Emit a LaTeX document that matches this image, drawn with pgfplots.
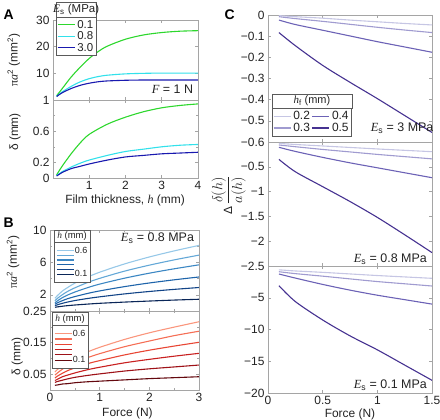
\documentclass[border=0pt]{standalone}
\usepackage{pgfplots}
\usepackage{pgfplotstable}
\pgfplotsset{compat=1.18}
\usepackage{fontspec}
\setmainfont{Liberation Sans}
\newfontfamily\tnr{Liberation Serif}
\usetikzlibrary{calc}
\newcommand{\iv}[1]{{\tnr\itshape #1}}
\newcommand{\Es}{\iv{E}\textsubscript{s}}
\newcommand{\lb}[1]{\smash{\raisebox{-3.2bp}{#1}}}
\definecolor{frm}{RGB}{165,165,165}
\definecolor{legf}{RGB}{90,90,90}
\definecolor{txt}{RGB}{35,35,35}
\definecolor{cgreen}{RGB}{45,215,45}
\definecolor{ccyan}{RGB}{50,225,235}
\definecolor{cblue}{RGB}{25,25,175}
\definecolor{bA}{RGB}{150,200,232}
\definecolor{bB}{RGB}{100,168,215}
\definecolor{bC}{RGB}{60,135,195}
\definecolor{bD}{RGB}{30,100,170}
\definecolor{bE}{RGB}{18,68,135}
\definecolor{bF}{RGB}{10,38,88}
\definecolor{rA}{RGB}{250,150,125}
\definecolor{rB}{RGB}{245,110,85}
\definecolor{rC}{RGB}{232,70,52}
\definecolor{rD}{RGB}{200,32,32}
\definecolor{rE}{RGB}{158,18,24}
\definecolor{rF}{RGB}{100,8,14}
\definecolor{pA}{RGB}{198,198,228}
\definecolor{pB}{RGB}{160,155,208}
\definecolor{pC}{RGB}{108,98,182}
\definecolor{pD}{RGB}{70,50,145}

% Panel A: h, E=0.1, 0.8, 3.0
\pgfplotstableread{
h    g     c     b
0.1  1.6   1.4   1.3
0.25 4.2   3.0   2.7
0.5  8.6   5.1   4.3
0.75 12.3  6.8   5.5
1    15.6  8.0   6.3
1.25 18.2  8.8   6.85
1.5  20.2  9.3   7.15
2    22.8  9.8   7.4
2.5  24.4  10.0  7.5
3    25.3  10.1  7.5
3.5  25.8  10.1  7.5
4    26.0  10.1  7.5
}\tabAtop
\pgfplotstableread{
h    g     c     b
0.1  0.04  0.03  0.025
0.25 0.15  0.08  0.07
0.5  0.31  0.14  0.12
0.75 0.45  0.19  0.15
1    0.56  0.23  0.18
1.5  0.69  0.29  0.23
2    0.78  0.34  0.27
2.5  0.85  0.37  0.29
3    0.90  0.40  0.31
3.5  0.93  0.42  0.32
4    0.95  0.43  0.33
}\tabAbot
% Panel B: F, h=0.6 ... 0.1
\pgfplotstableread{
F    a     b     c     d     e     f
0.1  1.57  1.27  1.02  0.83  0.65  0.46
0.15 1.91  1.56  1.26  1.01  0.77  0.51
0.25 2.47  2.02  1.65  1.28  0.95  0.59
0.35 2.88  2.40  1.96  1.51  1.10  0.66
0.5  3.44  2.86  2.34  1.78  1.29  0.74
0.75 4.17  3.50  2.87  2.16  1.54  0.85
1    4.79  4.03  3.32  2.48  1.75  0.95
1.5  5.81  4.92  4.05  3.01  2.11  1.10
2    6.67  5.66  4.67  3.46  2.41  1.23
2.5  7.42  6.31  5.21  3.85  2.67  1.35
3    8.10  6.90  5.70  4.20  2.90  1.45
}\tabBtop
\pgfplotstableread{
F    a      b      c      d      e      f
0.1  0.057  0.047  0.038  0.030  0.024  0.015
0.15 0.065  0.054  0.044  0.034  0.027  0.016
0.25 0.078  0.066  0.053  0.042  0.031  0.019
0.35 0.089  0.075  0.061  0.047  0.035  0.020
0.5  0.102  0.086  0.070  0.054  0.040  0.023
0.75 0.120  0.102  0.083  0.064  0.046  0.026
1    0.135  0.115  0.093  0.072  0.051  0.028
1.5  0.160  0.137  0.111  0.086  0.060  0.032
2    0.181  0.155  0.126  0.097  0.067  0.036
2.5  0.199  0.172  0.139  0.107  0.073  0.039
3    0.216  0.186  0.151  0.116  0.079  0.042
}\tabBbot
% Panel C: F, hf=0.2,0.3,0.4,0.5
\pgfplotstableread{
F    a       b       c       d
0.1  -0.003  -0.008  -0.024  -0.083
0.25 -0.008  -0.017  -0.045  -0.145
0.5  -0.015  -0.030  -0.072  -0.238
0.75 -0.024  -0.044  -0.099  -0.318
1    -0.032  -0.058  -0.126  -0.395
1.25 -0.040  -0.071  -0.151  -0.475
1.5  -0.047  -0.083  -0.176  -0.555
}\tabCtop
\pgfplotstableread{
F    a       b       c       d
0.1  -0.027  -0.06   -0.107  -0.35
0.25 -0.05   -0.095  -0.19   -0.60
0.5  -0.08   -0.15   -0.31   -0.90
0.75 -0.11   -0.20   -0.42   -1.20
1    -0.14   -0.25   -0.52   -1.52
1.25 -0.168  -0.295  -0.62   -1.87
1.5  -0.195  -0.34   -0.72   -2.23
}\tabCmid
\pgfplotstableread{
F    a      b      c      d
0.1  -0.6   -0.9   -1.26  -3.1
0.25 -0.78  -1.2   -1.9   -5.6
0.5  -1.0   -1.6   -2.9   -8.5
0.75 -1.25  -2.03  -3.8   -11.0
1    -1.5   -2.45  -4.6   -13.2
1.25 -1.72  -2.8   -5.3   -15.6
1.5  -1.94  -3.15  -6.0   -18.0
}\tabCbot

\pgfplotsset{
  base/.style={
    scale only axis, anchor=north west,
    axis line style={frm, line width=0.6bp},
    every tick/.style={frm, line width=0.5bp},
    major tick length=3bp, minor tick length=2bp, tick align=inside,
    ticklabel style={font=\fontsize{12}{12}\selectfont, text=txt},
    every axis y label/.style={rotate=90, anchor=center, font=\fontsize{12}{13}\selectfont, text=txt},
    every axis x label/.style={anchor=center, font=\fontsize{12}{13}\selectfont, text=txt},
    /pgf/number format/assume math mode=true,
    every axis plot/.append style={line width=1.1bp, mark=none, smooth},
    legend cell align=left,
  },
}

\begin{document}
\begin{tikzpicture}
\useasboundingbox (0bp,0bp) rectangle (440bp,-420bp);

% ---------- A top
\begin{axis}[base, at={(53bp,-20bp)}, width=145bp, height=80bp,
  xmin=0, xmax=4, ymin=0, ymax=30, xtick={1,2,3,4}, xticklabels={},
  ytick={10,20,30},
  ylabel={{\tnr π\itshape a}\textsuperscript{2} (mm\textsuperscript{2})},
  ylabel style={at={(axis description cs:-0.27,0.5)}},
  legend style={at={(axis description cs:0.02,1.04)}, anchor=north west,
    draw=legf, line width=0.5bp, fill=white, text=txt,
    font=\fontsize{11.5}{12}\selectfont, name=legA, inner sep=1bp, row sep=-2bp},
]
\addplot[cgreen] table[x=h,y=g] {\tabAtop};
\addplot[ccyan] table[x=h,y=c] {\tabAtop};
\addplot[cblue] table[x=h,y=b] {\tabAtop};
\legend{0.1,0.8,3.0}
\node[anchor=east, font=\fontsize{12.5}{13}\selectfont, text=txt] at (rel axis cs:0.99,0.14) {\iv{F} = 1 N};
\end{axis}
\draw[legf, line width=0.5bp, fill=white] (legA.north west) rectangle ([yshift=15bp]legA.north east);
\node[font=\fontsize{11.5}{12}\selectfont, text=txt] at ([yshift=7.5bp]legA.north) {\Es\ (MPa)};

% ---------- A bottom
\begin{axis}[base, at={(53bp,-100bp)}, width=145bp, height=78bp,
  xmin=0, xmax=4, ymin=0, ymax=1, xtick={1,2,3,4},
  ytick={0,0.2,0.6,1}, yticklabels={0,0.2,0.6,1}, minor ytick={0.4,0.8},
  ylabel={δ (mm)},
  ylabel style={at={(axis description cs:-0.262,0.59)}},
  xlabel={Film thickness, \iv{h} (mm)},
  xlabel style={at={(axis description cs:0.497,-0.29)}},
]
\addplot[cgreen] table[x=h,y=g] {\tabAbot};
\addplot[ccyan] table[x=h,y=c] {\tabAbot};
\addplot[cblue] table[x=h,y=b] {\tabAbot};
\end{axis}

% ---------- B top
\begin{axis}[base, at={(50bp,-230bp)}, width=149bp, height=81bp,
  xmin=0, xmax=3, ymin=0, ymax=10, xtick={0,1,2,3}, xticklabels={},
  minor xtick={0.5,1.5,2.5},
  ytick={2,6,10}, minor ytick={4,8},
  ylabel={{\tnr π\itshape a}\textsuperscript{2} (mm\textsuperscript{2})},
  ylabel style={at={(axis description cs:-0.248,0.6)}},
  legend style={at={(axis description cs:0.027,0.85)}, anchor=north west,
    draw=legf, line width=0.5bp, fill=white, text=txt,
    font=\fontsize{9}{9}\selectfont, name=legB, inner xsep=2bp, inner ysep=7bp,
    row sep=2.2bp, nodes={inner sep=0.5bp}},
]
\addplot[bA] table[x=F,y=a] {\tabBtop}; \addlegendentry{\lb{0.6}}
\addplot[bB] table[x=F,y=b] {\tabBtop}; \addlegendentry{\lb{}}
\addplot[bC] table[x=F,y=c] {\tabBtop}; \addlegendentry{\lb{}}
\addplot[bD] table[x=F,y=d] {\tabBtop}; \addlegendentry{\lb{}}
\addplot[bE] table[x=F,y=e] {\tabBtop}; \addlegendentry{\lb{}}
\addplot[bF] table[x=F,y=f] {\tabBtop}; \addlegendentry{\lb{0.1}}
\node[anchor=east, font=\fontsize{12.5}{13}\selectfont, text=txt] at (rel axis cs:0.99,0.9) {\Es\ = 0.8 MPa};
\end{axis}
\draw[legf, line width=0.5bp, fill=white] (legB.north west) rectangle ([yshift=12bp]legB.north east);
\node[font=\fontsize{9.5}{10}\selectfont, text=txt] at ([yshift=6bp]legB.north) {\iv{h} (mm)};

% ---------- B bottom
\begin{axis}[base, at={(50bp,-311bp)}, width=149bp, height=79bp,
  xmin=0, xmax=3, ymin=0, ymax=0.25, xtick={0,1,2,3},
  minor xtick={0.5,1.5,2.5},
  ytick={0.05,0.15,0.25}, yticklabels={0.05,0.15,0.25}, minor ytick={0.1,0.2},
  ylabel={δ (mm)},
  ylabel style={at={(axis description cs:-0.22,0.42)}},
  xlabel={Force (N)},
  xlabel style={at={(axis description cs:0.52,-0.29)}},
  legend style={at={(axis description cs:0.013,0.82)}, anchor=north west,
    draw=legf, line width=0.5bp, fill=white, text=txt,
    font=\fontsize{9}{9}\selectfont, name=legBB, inner xsep=2bp, inner ysep=7bp,
    row sep=2.8bp, nodes={inner sep=0.5bp}},
]
\addplot[rA] table[x=F,y=a] {\tabBbot}; \addlegendentry{\lb{0.6}}
\addplot[rB] table[x=F,y=b] {\tabBbot}; \addlegendentry{\lb{}}
\addplot[rC] table[x=F,y=c] {\tabBbot}; \addlegendentry{\lb{}}
\addplot[rD] table[x=F,y=d] {\tabBbot}; \addlegendentry{\lb{}}
\addplot[rE] table[x=F,y=e] {\tabBbot}; \addlegendentry{\lb{}}
\addplot[rF] table[x=F,y=f] {\tabBbot}; \addlegendentry{\lb{0.1}}
\end{axis}
\draw[legf, line width=0.5bp, fill=white] (legBB.north west) rectangle ([yshift=13bp]legBB.north east);
\node[font=\fontsize{9.5}{10}\selectfont, text=txt] at ([yshift=6.5bp]legBB.north) {\iv{h} (mm)};

% ---------- C top
\begin{axis}[base, at={(268bp,-15bp)}, width=164bp, height=127bp,
  xmin=0, xmax=1.5, ymin=-0.6, ymax=0, xtick={0,0.5,1,1.5}, xticklabels={},
  ytick={-0.6,-0.5,-0.4,-0.3,-0.2,-0.1,0},
  yticklabels={−0.6,−0.5,−0.4,−0.3,−0.2,−0.1,0},
  legend columns=2,
  legend style={at={(axis description cs:0.024,0.268)}, anchor=north west,
    draw=legf, line width=0.5bp, fill=white, text=txt,
    font=\fontsize{12}{12}\selectfont, name=legC, inner sep=1bp, row sep=-2bp},
]
\addplot[pA] table[x=F,y=a] {\tabCtop}; \addlegendentry{0.2}
\addplot[pC] table[x=F,y=c] {\tabCtop}; \addlegendentry{0.4}
\addplot[pB] table[x=F,y=b] {\tabCtop}; \addlegendentry{0.3}
\addplot[pD] table[x=F,y=d] {\tabCtop}; \addlegendentry{0.5}
\node[anchor=east, font=\fontsize{12.5}{13}\selectfont, text=txt] at (rel axis cs:1.03,0.11) {\Es\ = 3 MPa};
\end{axis}
\draw[legf, line width=0.5bp, fill=white] (legC.north west) rectangle ([yshift=14bp]legC.north east);
\node[font=\fontsize{11}{11}\selectfont, text=txt] at ([yshift=7bp]legC.north) {\iv{h}\textsubscript{f} (mm)};

% ---------- C middle
\begin{axis}[base, at={(268bp,-142bp)}, width=164bp, height=124bp,
  xmin=0, xmax=1.5, ymin=-2.5, ymax=0, xtick={0,0.5,1,1.5}, xticklabels={},
  ytick={-2.5,-2,-1.5,-1,-0.5},
  yticklabels={−2.5,−2,−1.5,−1,−0.5},
  ylabel={{\fontsize{12}{12}\selectfont Δ}\,$\displaystyle\frac{\delta(h)}{a(h)}$},
  ylabel style={at={(axis description cs:-0.24,0.57)}, font=\fontsize{15}{16}\selectfont},
]
\addplot[pA] table[x=F,y=a] {\tabCmid};
\addplot[pB] table[x=F,y=b] {\tabCmid};
\addplot[pC] table[x=F,y=c] {\tabCmid};
\addplot[pD] table[x=F,y=d] {\tabCmid};
\node[anchor=east, font=\fontsize{12.5}{13}\selectfont, text=txt] at (rel axis cs:0.99,0.056) {\Es\ = 0.8 MPa};
\end{axis}

% ---------- C bottom
\begin{axis}[base, at={(268bp,-266bp)}, width=164bp, height=127bp,
  xmin=0, xmax=1.5, ymin=-20, ymax=0, xtick={0,0.5,1,1.5},
  xticklabels={0,0.5,1,1.5},
  ytick={-20,-15,-10,-5},
  yticklabels={−20,−15,−10,−5},
  xlabel={Force (N)},
  xlabel style={at={(axis description cs:0.5,-0.165)}},
]
\addplot[pA] table[x=F,y=a] {\tabCbot};
\addplot[pB] table[x=F,y=b] {\tabCbot};
\addplot[pC] table[x=F,y=c] {\tabCbot};
\addplot[pD] table[x=F,y=d] {\tabCbot};
\node[anchor=east, font=\fontsize{12.5}{13}\selectfont, text=txt] at (rel axis cs:0.99,0.063) {\Es\ = 0.1 MPa};
\end{axis}

% panel letters
\node[anchor=west, font=\bfseries\fontsize{14}{14}\selectfont] at (0bp,-15bp) {A};
\node[anchor=west, font=\bfseries\fontsize{14}{14}\selectfont] at (0bp,-223bp) {B};
\node[anchor=west, font=\bfseries\fontsize{14}{14}\selectfont] at (221bp,-15bp) {C};
\end{tikzpicture}
\end{document}
